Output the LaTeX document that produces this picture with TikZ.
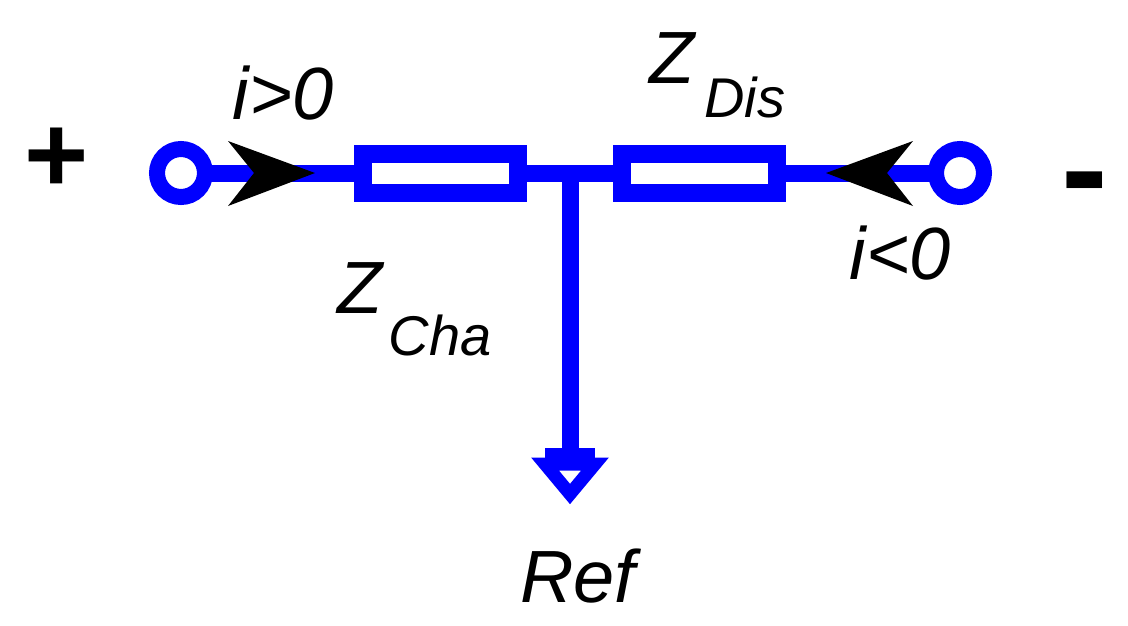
\documentclass[tikz,border=0pt]{standalone}
\usepackage{fontspec}
\setmainfont{Liberation Sans}
\begin{document}
\begin{tikzpicture}[x=1pt,y=-1pt,
  wire/.style={draw=blue,line width=17},
  res/.style={draw=blue,fill=white,line width=18},
  term/.style={draw=blue,fill=white,line width=16,circle,minimum size=48,inner sep=0},
  lbl/.style={font=\fontsize{74}{74}\selectfont\itshape,inner sep=0},
  sub/.style={font=\fontsize{56}{56}\selectfont\itshape,inner sep=0}]
\useasboundingbox (0,0) rectangle (1128,625);
\coordinate (tl) at (181,173);
\coordinate (tr) at (960,173);
\coordinate (j) at (570,173);
\coordinate (g) at (570,455);
\draw[wire] (tl) -- (tr);
\draw[wire] (j) -- (g);
\draw[res] (363,154) rectangle (518,193);
\draw[res] (622,154) rectangle (777,193);
\node[term] (a) at (tl) {};
\node[term] (b) at (tr) {};
\draw[blue,line width=10] (545,453) -- (595,453);
\draw[blue,line width=13,line join=miter] (545,464) -- (595,464) -- (570,494) -- cycle;
\fill[black] (315,173) -- (228,141) -- (254,173) -- (228,206) -- cycle;
\fill[black] (826,173) -- (913,141) -- (887,173) -- (913,206) -- cycle;
\node[font=\fontsize{110}{110}\selectfont\bfseries,inner sep=0] (p) at (57,160) {+};
\node[font=\fontsize{140}{140}\selectfont\bfseries,inner sep=0] (m) at (1085,194) {-};
\node[lbl] (i1) at (283,93) {i>0};
\node[lbl] (i2) at (900,253) {i<0};
\node[lbl] (zd) at (672,58) {Z};
\node[sub] (dd) at (745,97) {Dis};
\node[lbl] (zc) at (360,288) {Z};
\node[sub] (cc) at (440,335) {Cha};
\node[lbl] (r) at (578,576) {Ref};
\end{tikzpicture}
\end{document}
